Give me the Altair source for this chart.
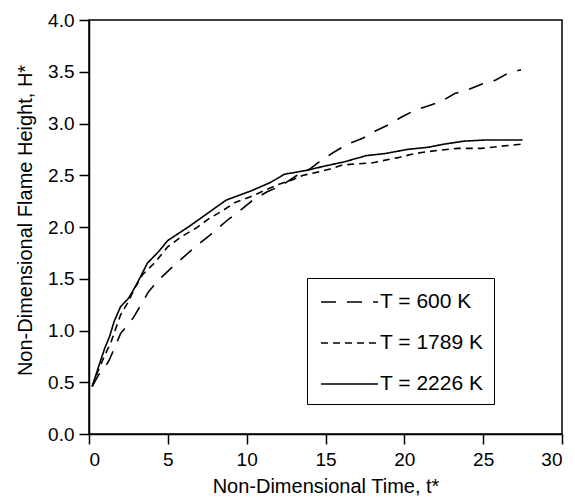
import altair as alt
import pandas as pd

labels = ["T = 600 K", "T = 1789 K", "T = 2226 K"]

t600 = [0.2, 0.6, 1.0, 1.3, 1.7, 2.0, 2.8, 3.3, 3.8, 4.5, 5.4, 6.3, 7.0, 7.9, 8.8, 9.6, 10.4, 11.3, 12.2, 13.2, 14.0, 14.6, 15.5, 16.4, 17.4, 18.2, 18.9, 19.8, 20.7, 21.5, 22.3, 23.2, 24.1, 24.9, 25.8, 26.5, 27.4]
h600 = [0.46, 0.57, 0.64, 0.72, 0.86, 0.97, 1.12, 1.25, 1.38, 1.50, 1.63, 1.75, 1.84, 1.95, 2.07, 2.16, 2.26, 2.34, 2.40, 2.50, 2.56, 2.63, 2.72, 2.80, 2.86, 2.93, 2.98, 3.06, 3.13, 3.17, 3.21, 3.29, 3.33, 3.38, 3.42, 3.48, 3.52]

t1789 = [0.2, 0.6, 1.0, 1.4, 2.0, 2.5, 2.9, 3.4, 4.2, 5.0, 5.9, 6.8, 7.6, 8.5, 9.3, 10.2, 11.1, 12.0, 12.8, 13.6, 14.5, 15.3, 16.1, 17.0, 18.0, 18.6, 19.6, 20.4, 21.1, 22.1, 23.4, 24.9, 26.1, 27.4]
h1789 = [0.46, 0.62, 0.76, 0.89, 1.15, 1.28, 1.41, 1.54, 1.66, 1.81, 1.91, 1.99, 2.08, 2.16, 2.24, 2.29, 2.35, 2.41, 2.45, 2.50, 2.53, 2.56, 2.60, 2.61, 2.62, 2.64, 2.67, 2.70, 2.72, 2.74, 2.76, 2.76, 2.78, 2.80]

t2226 = [0.2, 0.65, 1.0, 1.3, 1.6, 2.0, 2.5, 3.0, 3.7, 4.4, 5.0, 6.3, 7.5, 8.7, 10.3, 11.5, 12.4, 13.9, 14.7, 16.2, 17.6, 18.8, 20.2, 21.5, 22.5, 23.8, 25.1, 27.5]
h2226 = [0.46, 0.67, 0.83, 0.94, 1.09, 1.23, 1.31, 1.44, 1.65, 1.76, 1.87, 2.00, 2.13, 2.26, 2.35, 2.43, 2.51, 2.55, 2.58, 2.63, 2.69, 2.71, 2.75, 2.77, 2.80, 2.83, 2.84, 2.84]

x_ticks = [0, 5, 10, 15, 20, 25, 30]
y_ticks = [0.0, 0.5, 1.0, 1.5, 2.0, 2.5, 3.0, 3.5, 4.0]

rows = []
for lab, ts, hs in zip(labels, [t600, t1789, t2226], [h600, h1789, h2226]):
    for t, h in zip(ts, hs):
        rows.append({"series": lab, "t": t, "h": h})
df = pd.DataFrame(rows)

FONT = "Liberation Sans"

chart = alt.Chart(df).mark_line(color="black", strokeWidth=1.6).encode(
    x=alt.X("t:Q", scale=alt.Scale(domain=[0, 30], nice=False),
            axis=alt.Axis(values=x_ticks, title="Non-Dimensional Time, t*", titlePadding=7, labelPadding=6)),
    y=alt.Y("h:Q", scale=alt.Scale(domain=[0, 4], nice=False),
            axis=alt.Axis(values=y_ticks, format=".1f", title="Non-Dimensional Flame Height, H*",
                          titlePadding=12, labelPadding=5, titleY=200)),
    strokeDash=alt.StrokeDash(
        "series:N",
        scale=alt.Scale(domain=labels, range=[[15, 11], [7, 5], [1, 0]]),
        legend=alt.Legend(
            title=None, orient="none", legendX=218, legendY=258,
            symbolType="M-0.77,0H3.62", symbolSize=676, symbolStrokeWidth=1.5,
            symbolStrokeColor="black", labelFontSize=21, labelOffset=35,
            rowPadding=17, padding=10, strokeColor="black", fillColor="white",
            labelFont=FONT, labelColor="black",
        ),
    ),
    order="t:Q",
).properties(
    width=473, height=414,
    padding={"left": 7, "top": 3, "right": 2, "bottom": 0},
).configure(
    font=FONT, background="white",
).configure_axis(
    grid=False, domainColor="black", domainWidth=1.5, tickColor="black", tickWidth=1.5,
    tickSize=10, labelFontSize=19, titleFontSize=20, labelColor="black", titleColor="black",
    titleFontWeight="normal", labelFont=FONT, titleFont=FONT,
).configure_view(
    stroke="black", strokeWidth=1.5,
)

chart.save("out.html", embed_options={"renderer": "svg", "actions": False})
